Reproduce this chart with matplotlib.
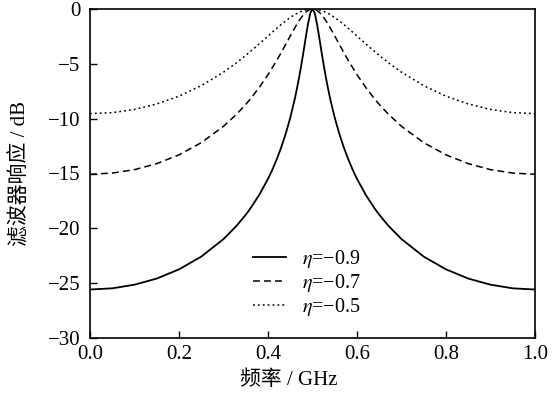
import numpy as np
import matplotlib
matplotlib.use("Agg")
import matplotlib.pyplot as plt

plt.rcParams['font.family'] = ['Liberation Serif', 'Noto Sans CJK SC']
plt.rcParams['mathtext.fontset'] = 'stix'

# Frequenz in GHz
freq = [0.0, 0.05, 0.1, 0.15, 0.2, 0.25, 0.3, 0.33, 0.35, 0.36, 0.38, 0.4,
        0.41, 0.42, 0.43, 0.44, 0.45, 0.46, 0.465, 0.47, 0.475, 0.48, 0.485,
        0.49, 0.495, 0.5,
        0.505, 0.51, 0.515, 0.52, 0.525, 0.53, 0.535, 0.54, 0.55, 0.56, 0.57,
        0.58, 0.59, 0.6, 0.62, 0.64, 0.65, 0.67, 0.7, 0.75, 0.8, 0.85, 0.9,
        0.95, 1.0]

# Filterantwort in dB
resp_09 = [-25.58, -25.47, -25.14, -24.58, -23.74, -22.58, -20.98, -19.74,
           -18.76, -18.21, -16.97, -15.49, -14.63, -13.67, -12.58, -11.35,
           -9.92, -8.23, -7.27, -6.22, -5.07, -3.84, -2.55, -1.34, -0.37, 0.0,
           -0.37, -1.34, -2.55, -3.84, -5.07, -6.22, -7.27, -8.23, -9.92,
           -11.35, -12.58, -13.67, -14.63, -15.49, -16.97, -18.21, -18.76,
           -19.74, -20.98, -22.58, -23.74, -24.58, -25.14, -25.47, -25.58]
resp_07 = [-15.07, -14.96, -14.65, -14.10, -13.30, -12.19, -10.70, -9.57,
           -8.70, -8.22, -7.17, -5.99, -5.33, -4.66, -3.95, -3.21, -2.46,
           -1.73, -1.38, -1.06, -0.76, -0.51, -0.29, -0.13, -0.03, 0.0,
           -0.03, -0.13, -0.29, -0.51, -0.76, -1.06, -1.38, -1.73, -2.46,
           -3.21, -3.95, -4.66, -5.33, -5.99, -7.17, -8.22, -8.70, -9.57,
           -10.70, -12.19, -13.30, -14.10, -14.65, -14.96, -15.07]
resp_05 = [-9.54, -9.45, -9.16, -8.66, -7.95, -6.99, -5.76, -4.88, -4.23,
           -3.89, -3.19, -2.47, -2.10, -1.75, -1.40, -1.08, -0.78, -0.51,
           -0.40, -0.30, -0.21, -0.14, -0.08, -0.03, -0.01, 0.0,
           -0.01, -0.03, -0.08, -0.14, -0.21, -0.30, -0.40, -0.51, -0.78,
           -1.08, -1.40, -1.75, -2.10, -2.47, -3.19, -3.89, -4.23, -4.88,
           -5.76, -6.99, -7.95, -8.66, -9.16, -9.45, -9.54]

labels = [r"$\eta$=−0.9", r"$\eta$=−0.7", r"$\eta$=−0.5"]

fig = plt.figure(figsize=(5.58, 4.01), dpi=100)
ax = fig.add_axes([90 / 558, 1 - 338 / 401, 445 / 558, 329 / 401])

ax.plot(freq, resp_09, color="black", linewidth=1.3, linestyle="-", label=labels[0])
ax.plot(freq, resp_07, color="black", linewidth=1.1, linestyle=(0, (4.5, 2.7)), label=labels[1])
ax.plot(freq, resp_05, color="black", linewidth=1.1, linestyle=(0, (1.2, 2)), label=labels[2])

ax.set_xlim(0, 1.0)
ax.set_ylim(-30, 0)
ax.set_xticks(np.arange(0, 1.01, 0.2))
ax.set_yticks(np.arange(-30, 1, 5))
ax.set_xticklabels(["0.0", "0.2", "0.4", "0.6", "0.8", "1.0"])
ax.set_yticklabels(["−30", "−25", "−20", "−15", "−10", "−5", "0"])
ax.tick_params(direction="in", length=5, width=1, labelsize=15)
ax.tick_params(axis="x", pad=5)
ax.tick_params(axis="y", pad=7)
for s in ax.spines.values():
    s.set_linewidth(1.2)

ax.set_xlabel("频率 / GHz", fontsize=15, labelpad=5)
ax.xaxis.label.set_x(0.447)
ax.set_ylabel("滤波器响应 / dB", fontsize=15, labelpad=12)

ax.legend(loc="lower left", bbox_to_anchor=(0.335, 0.018), frameon=False,
          fontsize=14.5, handlelength=1.65, handletextpad=0.75, labelspacing=0.1,
          borderpad=0.2)

fig.savefig("out.png", dpi=100)
